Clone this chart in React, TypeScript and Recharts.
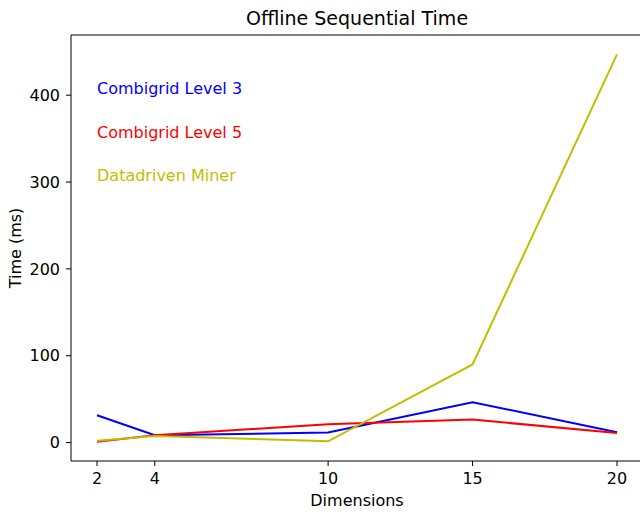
import { LineChart, Line, XAxis, YAxis, ReferenceDot, ReferenceLine } from 'recharts';

const dimensions = [2, 4, 10, 15, 20];
const combigridL3 = [31.5, 8.5, 11.5, 46.5, 12];
const combigridL5 = [1, 8.5, 21, 26.5, 11];
const datadrivenMiner = [2, 7.5, 1.5, 90, 447];

const xTicks = [2, 4, 10, 15, 20];
const yTicks = [0, 100, 200, 300, 400];
const xDomain = [1.1, 20.9];
const yDomain = [-21.2, 469.3];

const BLUE = '#0000ff';
const RED = '#ff0000';
const YELLOW = '#bfbf00';
const FONT = "'DejaVu Sans', sans-serif";

const data = dimensions.map((d, i) => ({
  dim: d,
  l3: combigridL3[i],
  l5: combigridL5[i],
  miner: datadrivenMiner[i],
}));

// in-plot text labels, anchored at data coords like plt.text
const notes = [
  { text: 'Combigrid Level 3', x: 2, y: 400, color: BLUE },
  { text: 'Combigrid Level 5', x: 2, y: 350, color: RED },
  { text: 'Datadriven Miner', x: 2, y: 300, color: YELLOW },
];

function NoteLabel({ viewBox, text, color }: any) {
  const x = viewBox.x + viewBox.width / 2;
  const y = viewBox.y + viewBox.height / 2 - 1;
  return (
    <text x={x} y={y} fill={color} fontSize={16} fontFamily={FONT} textAnchor="start">
      {text}
    </text>
  );
}

export default function App() {
  const tickStyle = { fill: '#000', fontSize: 16, fontFamily: FONT };
  return (
    <div style={{ position: 'absolute', left: 0, top: 0, width: 640, height: 513, overflow: 'hidden', background: '#fff' }}>
      <div style={{ position: 'absolute', left: 0, width: 714, top: 7, textAlign: 'center', fontFamily: FONT, fontSize: 19, color: '#000' }}>
        Offline Sequential Time
      </div>
      <div style={{ position: 'absolute', left: 0, width: 714, top: 491, textAlign: 'center', fontFamily: FONT, fontSize: 16, color: '#000' }}>
        Dimensions
      </div>
      <div
        style={{
          position: 'absolute', left: 15, top: 248, fontFamily: FONT, fontSize: 16, color: '#000',
          transform: 'translate(-50%, -50%) rotate(-90deg)', whiteSpace: 'nowrap',
        }}
      >
        Time (ms)
      </div>
      <LineChart width={643} height={513} data={data} margin={{ top: 35, right: 0, left: 0, bottom: 0 }}>
        <XAxis
          dataKey="dim"
          type="number"
          domain={xDomain}
          ticks={xTicks}
          height={52}
          stroke="#000"
          tickSize={5}
          tickMargin={7}
          tick={tickStyle}
          allowDataOverflow
        />
        <YAxis
          type="number"
          domain={yDomain}
          ticks={yTicks}
          width={71}
          stroke="#000"
          tickSize={5}
          tickMargin={6}
          tick={tickStyle}
          allowDataOverflow
        />
        {/* top spine */}
        <ReferenceLine y={yDomain[1]} stroke="#000" strokeWidth={1} ifOverflow="visible" />
        <Line dataKey="l3" stroke={BLUE} strokeWidth={2} dot={false} isAnimationActive={false} />
        <Line dataKey="l5" stroke={RED} strokeWidth={2} dot={false} isAnimationActive={false} />
        <Line dataKey="miner" stroke={YELLOW} strokeWidth={2} dot={false} isAnimationActive={false} />
        {notes.map((n) => (
          <ReferenceDot
            key={n.text}
            x={n.x}
            y={n.y}
            r={1}
            fill="none"
            stroke="none"
            label={<NoteLabel text={n.text} color={n.color} />}
          />
        ))}
      </LineChart>
    </div>
  );
}
